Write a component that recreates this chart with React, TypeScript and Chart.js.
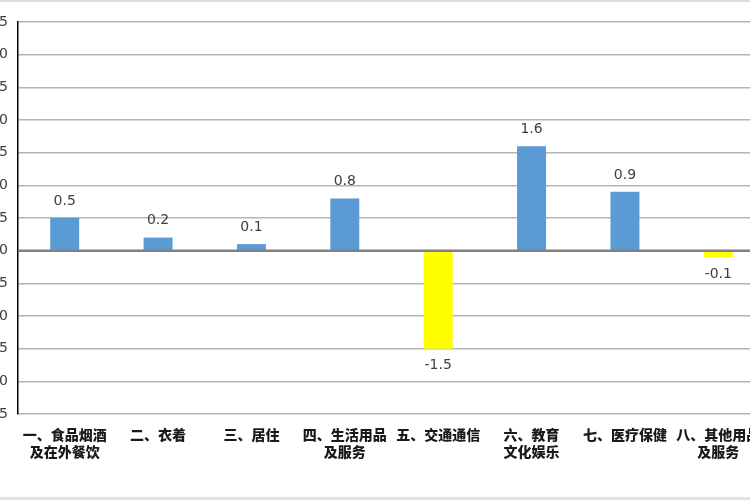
import { useEffect, useRef } from 'react';
import { Chart, registerables } from 'chart.js';

Chart.register(...registerables);

// CPI change by category (percentage points)
const categories = [
  ['一、食品烟酒', '及在外餐饮'],
  ['二、衣着'],
  ['三、居住'],
  ['四、生活用品', '及服务'],
  ['五、交通通信'],
  ['六、教育', '文化娱乐'],
  ['七、医疗保健'],
  ['八、其他用品', '及服务'],
];
const changes = [0.5, 0.2, 0.1, 0.8, -1.5, 1.6, 0.9, -0.1];

const yMin = -2.5;
const yMax = 3.5;
const yStep = 0.5;

const valueLabels = {
  id: 'valueLabels',
  afterDatasetsDraw(chart: any) {
    const { ctx, chartArea } = chart;
    const zero = chart.scales.y.getPixelForValue(0);

    ctx.save();
    ctx.strokeStyle = '#808080';
    ctx.lineWidth = 2.5;
    ctx.beginPath();
    ctx.moveTo(chartArea.left, zero);
    ctx.lineTo(chartArea.right, zero);
    ctx.stroke();

    ctx.font = '14px "DejaVu Sans"';
    ctx.fillStyle = '#404040';
    ctx.textAlign = 'center';
    ctx.textBaseline = 'middle';
    chart.getDatasetMeta(0).data.forEach((bar: any, i: number) => {
      const v = changes[i];
      const py = v >= 0 ? bar.y - 17 : bar.y + 17;
      ctx.fillText(String(v), bar.x, py);
    });
    ctx.restore();
  },
};

export default function App() {
  const canvasRef = useRef<HTMLCanvasElement>(null);
  const chartRef = useRef<Chart | null>(null);

  useEffect(() => {
    if (!canvasRef.current) return;
    if (chartRef.current) chartRef.current.destroy();

    chartRef.current = new Chart(canvasRef.current, {
      type: 'bar',
      data: {
        labels: categories,
        datasets: [{
          data: changes,
          backgroundColor: changes.map((v) => (v >= 0 ? '#5b9bd5' : '#ffff00')),
          categoryPercentage: 1,
          barPercentage: 0.31,
        }],
      },
      options: {
        animation: false,
        responsive: true,
        maintainAspectRatio: false,
        layout: { padding: { top: 20, right: 0, bottom: 0, left: 0 } },
        plugins: {
          legend: { display: false },
          tooltip: { enabled: false },
        },
        scales: {
          x: {
            grid: { display: false },
            border: { display: false },
            ticks: {
              padding: 4,
              color: '#1a1a1a',
              font: { size: 14, weight: 900, family: '"Noto Sans CJK SC"', lineHeight: 1.22 },
              maxRotation: 0,
              autoSkip: false,
            },
            afterFit: (scale: any) => { scale.height = 83; },
          },
          y: {
            min: yMin,
            max: yMax,
            grid: {
              color: (c: any) => (c.tick && c.tick.value === 0 ? 'rgba(0,0,0,0)' : '#b4b4b4'),
              lineWidth: 1.5,
              drawTicks: false,
            },
            border: { color: '#000000', width: 1.5 },
            ticks: {
              stepSize: yStep,
              padding: 10,
              color: '#404040',
              font: { size: 14, family: '"DejaVu Sans"' },
              callback: (v: any) => Number(v).toFixed(1),
            },
            afterFit: (scale: any) => { scale.width = 48; },
          },
        },
      },
      plugins: [valueLabels],
    });

    return () => {
      if (chartRef.current) {
        chartRef.current.destroy();
        chartRef.current = null;
      }
    };
  }, []);

  return (
    <div
      style={{
        position: 'fixed',
        left: 0,
        top: 0,
        width: 750,
        height: 500,
        overflow: 'hidden',
        background: '#ffffff',
        boxSizing: 'border-box',
        borderTop: '2px solid #dcdcdc',
        borderBottom: '3px solid #e2e2e2',
      }}
    >
      <div style={{ position: 'absolute', left: -30, top: 0, width: 795, height: 495 }}>
        <canvas ref={canvasRef} />
      </div>
    </div>
  );
}
